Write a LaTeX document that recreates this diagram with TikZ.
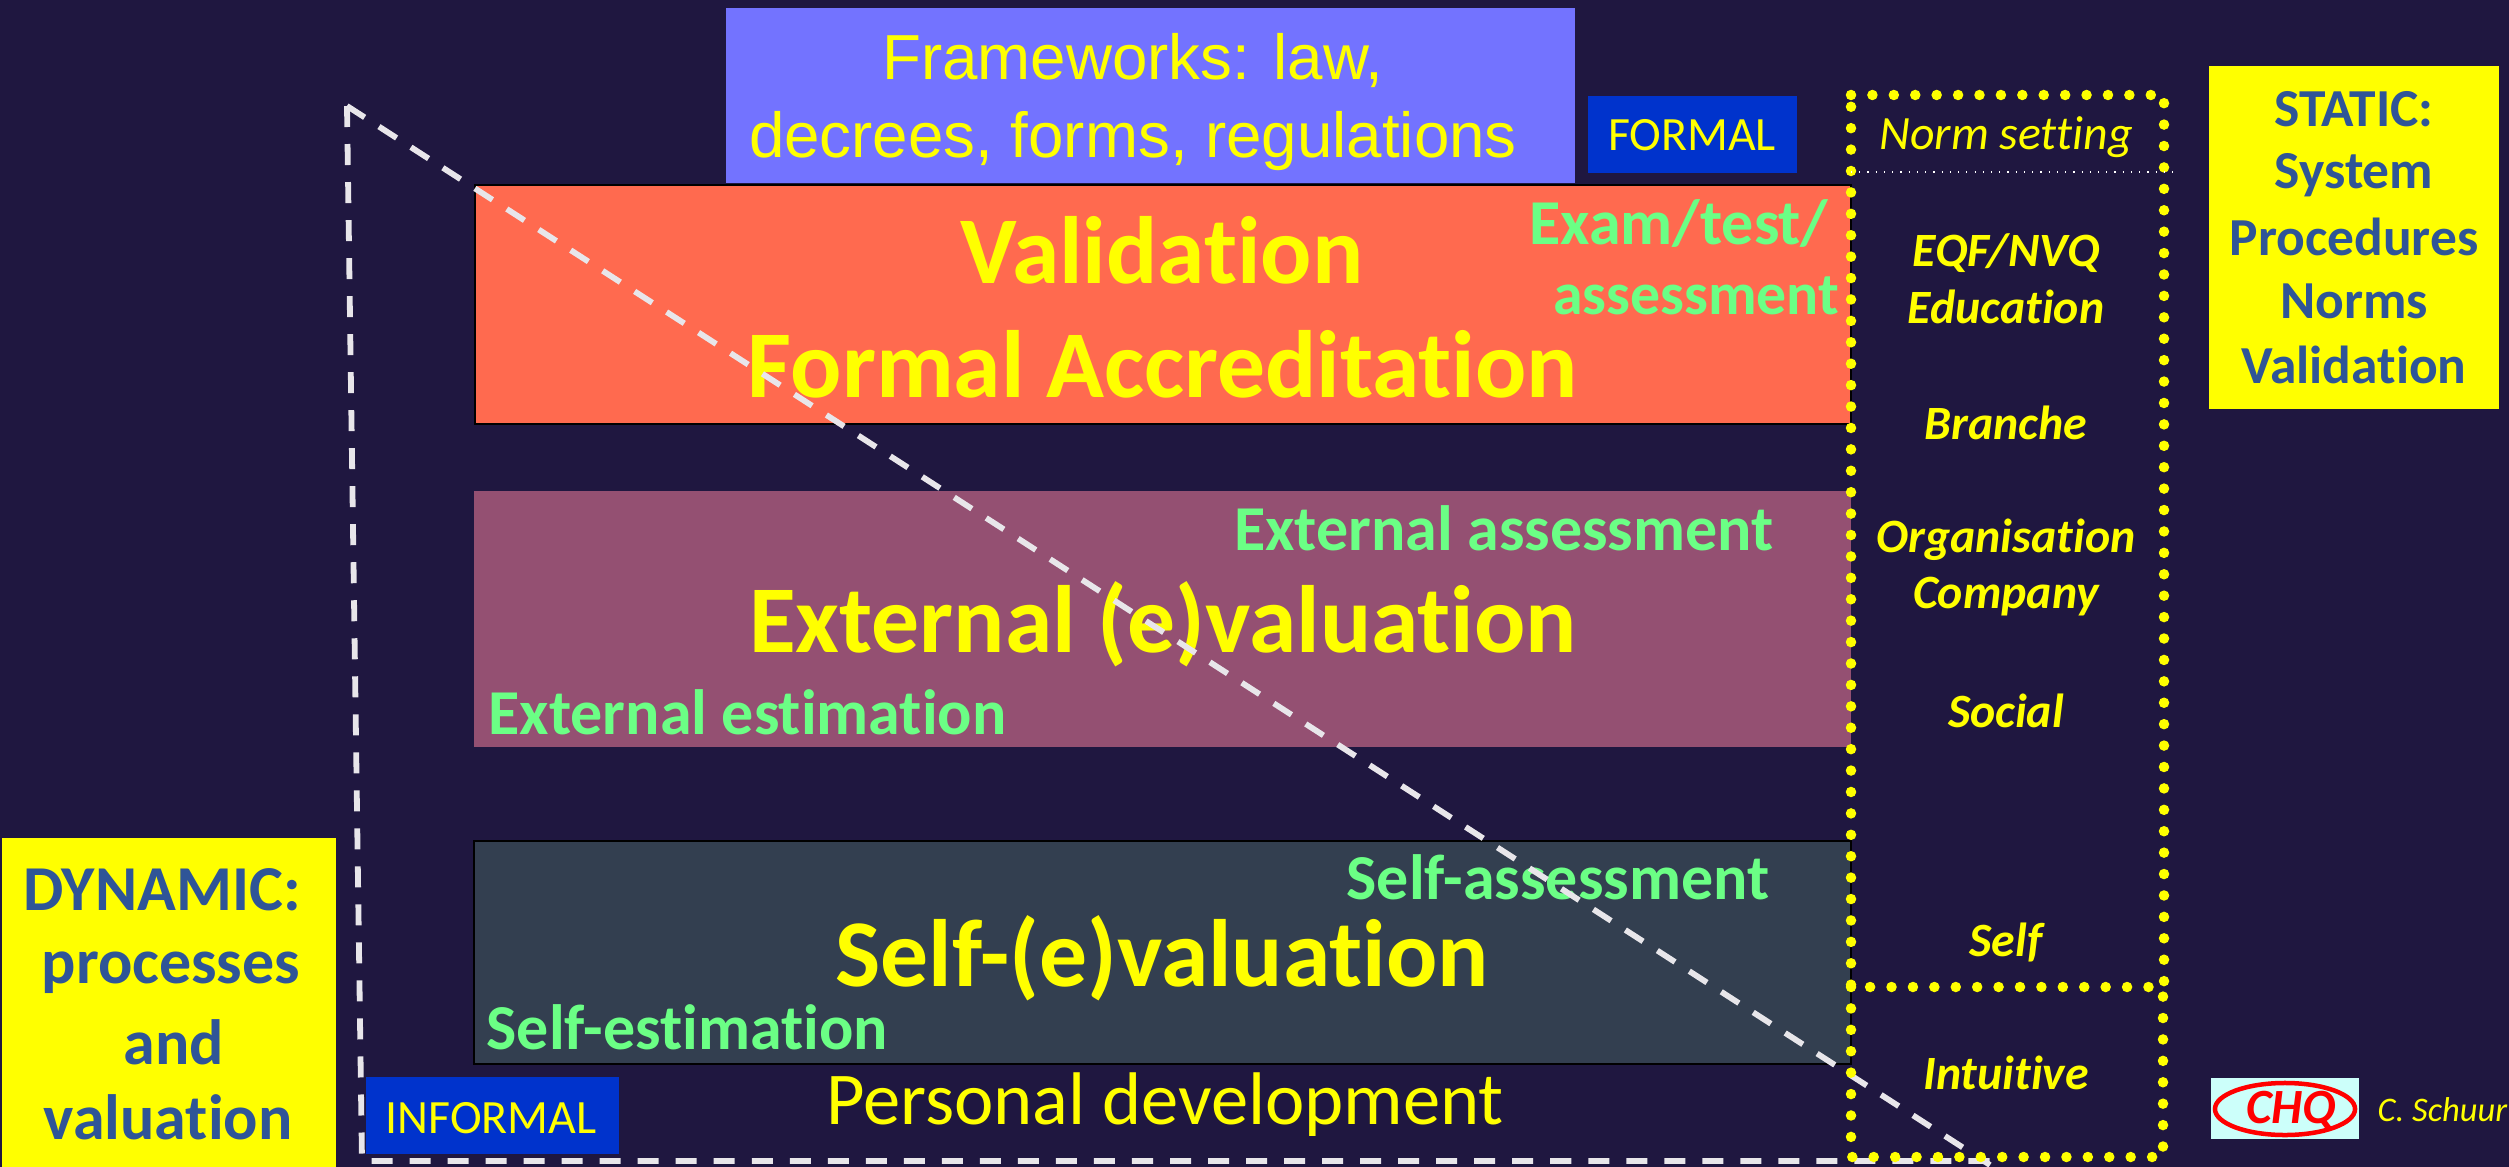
\documentclass[tikz,border=0pt]{standalone}
\usepackage{fontspec}
\setmainfont{Carlito}[Ligatures=NoCommon]
\newfontfamily\arialfont{Liberation Sans}
\usetikzlibrary{shapes.geometric}
\definecolor{bgdark}{HTML}{1F1740}
\definecolor{frameblue}{HTML}{7373FF}
\definecolor{tagblue}{HTML}{0033CC}
\definecolor{valred}{HTML}{FF6A4F}
\definecolor{extpurple}{HTML}{945072}
\definecolor{selfslate}{HTML}{333F50}
\definecolor{softgreen}{HTML}{6BFF85}
\definecolor{sidenavy}{HTML}{2F5597}
\definecolor{dashwhite}{HTML}{E8E6EA}
\definecolor{logopale}{HTML}{CCFFFA}
\definecolor{pureyellow}{HTML}{FFFF00}
\definecolor{purered}{HTML}{FF0000}
\tikzset{
  mainlabel/.style={inner sep=0, text=pureyellow, font=\fontsize{27.2}{27.2}\selectfont\bfseries},
  greenlabel/.style={inner sep=0, text=softgreen, font=\fontsize{18.2}{18.2}\selectfont\bfseries},
  normlabel/.style={inner sep=0, text=pureyellow, font=\fontsize{13.6}{13.6}\selectfont\bfseries\itshape},
  sidelabel/.style={inner sep=0, text=sidenavy, font=\fontsize{15.2}{15.2}\selectfont\bfseries},
  dynlabel/.style={inner sep=0, text=sidenavy, font=\fontsize{18.2}{18.2}\selectfont\bfseries},
  taglabel/.style={inner sep=0, text=pureyellow, font=\fontsize{13.6}{13.6}\selectfont},
  levelbox/.style={draw=black, line width=0.02cm},
  dottedyellow/.style={pureyellow, line width=0.105cm, line cap=round, dash pattern=on 0pt off 0.214cm},
  dashedwhite/.style={dashwhite, line width=0.058cm, dash pattern=on 0.21cm off 0.17cm}
}
\begin{document}
\begin{tikzpicture}[x=0.01cm,y=-0.01cm]
  \useasboundingbox (0,0) rectangle (2509,1167);
  \fill[bgdark] (0,0) rectangle (2509,1167);
  \fill[frameblue] (726,8) rectangle (1575,183);
  \fill[tagblue] (1588,96) rectangle (1797,173);
  \fill[tagblue] (366,1077) rectangle (619,1154);
  \fill[pureyellow] (2209,66) rectangle (2499,409);
  \fill[pureyellow] (2,838) rectangle (336,1167);
  \draw[levelbox, fill=valred] (475,185) rectangle (1851,424);
  \fill[extpurple] (474,491) rectangle (1851,747);
  \draw[levelbox, fill=selfslate] (474,841) rectangle (1851,1064);
  \node [taglabel, font=\arialfont\fontsize{18.1}{22.2}\selectfont, align=center] (frameworks) at (1133,102) {Frameworks: law,\\decrees, forms, regulations};
  \node [taglabel] (formal) at (1692,135) {FORMAL};
  \node [taglabel] (informal) at (491,1118) {INFORMAL};
  \node [mainlabel] (validation) at (1162,250) {Validation};
  \node [mainlabel] (accreditation) at (1163,364) {Formal Accreditation};
  \node [mainlabel] (external) at (1163,624) {External (e)valuation};
  \node [mainlabel] (selfeval) at (1162,958) {Self-(e)valuation};
  \node [greenlabel] (exam) at (1679,224) {Exam/test/};
  \node [greenlabel, font=\fontsize{17}{17}\selectfont\bfseries] (assessment) at (1696,296) {assessment};
  \node [greenlabel] (extassess) at (1504,528) {External assessment};
  \node [greenlabel, anchor=west] (extestim) at (488,712) {External estimation};
  \node [greenlabel] (selfassess) at (1558,877) {Self-assessment};
  \node [greenlabel, anchor=west] (selfestim) at (486,1027) {Self-estimation};
  \node [taglabel, font=\fontsize{21.2}{21.2}\selectfont] (personal) at (1165,1105) {Personal development};
  \draw[dashedwhite] (347,106) -- (362,1161) -- (1990,1161);
  \draw[dashedwhite] (347,106) -- (1990,1165);
  \draw[dottedyellow] (1851,95) -- (2164,95) -- (2164,987) -- (1851,987) -- cycle;
  \draw[dottedyellow] (1851,987) -- (1851,1157) -- (2163,1157) -- (2163,987);
  \draw[white, line width=0.012cm, dotted] (1851,172) -- (2177,172);
  \node [normlabel, font=\fontsize{13.6}{13.6}\selectfont\itshape] (normsetting) at (2006,137) {Norm setting};
  \node [normlabel] (eqf) at (2006,253) {EQF/NVQ};
  \node [normlabel] (education) at (2006,307) {Education};
  \node [normlabel] (branche) at (2006,423) {Branche};
  \node [normlabel] (organisation) at (2006,540) {Organisation};
  \node [normlabel] (company) at (2006,597) {Company};
  \node [normlabel] (social) at (2006,711) {Social};
  \node [normlabel] (selfnorm) at (2006,942) {Self};
  \node [normlabel] (intuitive) at (2006,1073) {Intuitive};
  \node [sidelabel] (static) at (2354,109) {STATIC:};
  \node [sidelabel] (system) at (2354,175) {System};
  \node [sidelabel] (procedures) at (2354,237) {Procedures};
  \node [sidelabel] (norms) at (2354,301) {Norms};
  \node [sidelabel] (valid) at (2354,365) {Validation};
  \node [dynlabel] (dynamic) at (162,890) {DYNAMIC:};
  \node [dynlabel] (processes) at (171,973) {processes};
  \node [dynlabel] (and) at (174,1042) {and};
  \node [dynlabel] (valuation) at (168,1117) {valuation};
  \fill[logopale] (2211,1078) rectangle (2359,1139);
  \node [ellipse, draw=purered, line width=0.045cm, inner sep=0, minimum width=1.4cm, minimum height=0.52cm] (logoring) at (2285,1109) {};
  \node [inner sep=0, text=purered, font=\fontsize{14}{14}\selectfont\bfseries\itshape] (logotext) at (2291,1110) {CHQ};
  \node [taglabel, font=\fontsize{9.8}{9.8}\selectfont\itshape, anchor=west] (credit) at (2377,1110) {C. Schuur};
\end{tikzpicture}
\end{document}
